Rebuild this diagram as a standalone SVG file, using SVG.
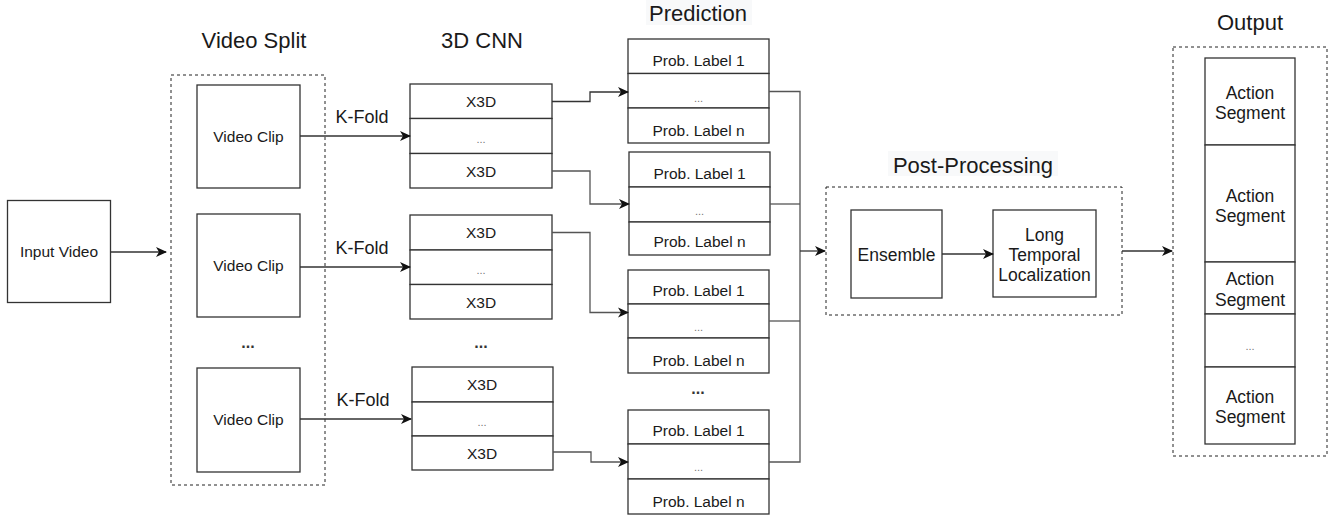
<svg xmlns="http://www.w3.org/2000/svg" width="1330" height="516" viewBox="0 0 1330 516">
<style>
text{font-family:"Liberation Sans",Arial,sans-serif;fill:#1a1a1a;text-anchor:middle}
.box{fill:#fff;stroke:#333;stroke-width:1.3}
.grp{fill:none;stroke:#222;stroke-width:1;stroke-dasharray:3 3}
.ttl{font-size:22px}
.lbl{font-size:15.5px}
.mid{font-size:17.5px}
.kf{font-size:18px}
.dots{font-size:11px;fill:#777}
.bdots{font-size:16px;font-weight:bold;fill:#333}
.bg{fill:#f8f9fa}
.c{fill:none;stroke:#333;stroke-width:1.3}
.cg{fill:none;stroke:#555;stroke-width:1.3}
</style>
<defs>
<marker id="ah" markerWidth="11" markerHeight="11" refX="10" refY="5.5" orient="auto" markerUnits="userSpaceOnUse">
<path d="M0,0.5 L11,5.5 L0,10.5 L3,5.5 Z" fill="#111"/>
</marker>
</defs>
<rect width="1330" height="516" fill="#fff"/>

<g id="titles">
<text class="ttl" x="254" y="48">Video Split</text>
<text class="ttl" x="482" y="48">3D CNN</text>
<rect class="bg" x="646" y="0" width="106" height="25"/>
<text class="ttl" x="698" y="21">Prediction</text>
<rect class="bg" x="888" y="151" width="170" height="25"/>
<text class="ttl" x="973" y="173">Post-Processing</text>
<text class="ttl" x="1250" y="30">Output</text>
</g>

<g id="input-video">
<rect class="box" x="7.5" y="200.5" width="103" height="102"/>
<text class="lbl" x="59" y="257">Input Video</text>
</g>

<g id="video-split">
<rect class="grp" x="171" y="75" width="154" height="410"/>
</g>
<g id="clip1">
<rect class="box" x="197" y="85" width="103" height="103"/>
<text class="lbl" x="248.5" y="142">Video Clip</text>
</g>
<g id="clip2">
<rect class="box" x="197" y="214" width="103" height="103"/>
<text class="lbl" x="248.5" y="271">Video Clip</text>
</g>
<text class="bdots" x="248" y="348">...</text>
<g id="clip3">
<rect class="box" x="197" y="368" width="103" height="104"/>
<text class="lbl" x="248.5" y="425">Video Clip</text>
</g>

<g id="cnn1">
<rect class="box" x="410" y="84" width="142" height="34.5"/>
<rect class="box" x="410" y="118.5" width="142" height="35"/>
<rect class="box" x="410" y="153.5" width="142" height="34.5"/>
<text class="lbl" x="481" y="107">X3D</text>
<text class="dots" x="481" y="143">...</text>
<text class="lbl" x="481" y="177">X3D</text>
</g>
<g id="cnn2">
<rect class="box" x="410" y="215" width="142" height="35"/>
<rect class="box" x="410" y="250" width="142" height="34.5"/>
<rect class="box" x="410" y="284.5" width="142" height="34.5"/>
<text class="lbl" x="481" y="238">X3D</text>
<text class="dots" x="481" y="274">...</text>
<text class="lbl" x="481" y="308">X3D</text>
</g>
<text class="bdots" x="481" y="348">...</text>
<g id="cnn3">
<rect class="box" x="412" y="367" width="141" height="35"/>
<rect class="box" x="412" y="402" width="141" height="34"/>
<rect class="box" x="412" y="436" width="141" height="34"/>
<text class="lbl" x="482" y="390">X3D</text>
<text class="dots" x="482" y="426">...</text>
<text class="lbl" x="482" y="459">X3D</text>
</g>

<g id="pred1">
<rect class="box" x="628" y="39" width="141" height="34.5"/>
<rect class="box" x="628" y="73.5" width="141" height="34.5"/>
<rect class="box" x="628" y="108" width="141" height="35"/>
<text class="lbl" x="698.5" y="66">Prob. Label 1</text>
<text class="dots" x="698.5" y="102">...</text>
<text class="lbl" x="698.5" y="136">Prob. Label n</text>
</g>
<g id="pred2">
<rect class="box" x="629" y="152" width="141" height="35"/>
<rect class="box" x="629" y="187" width="141" height="35"/>
<rect class="box" x="629" y="222" width="141" height="33"/>
<text class="lbl" x="699.5" y="179">Prob. Label 1</text>
<text class="dots" x="699.5" y="215">...</text>
<text class="lbl" x="699.5" y="247">Prob. Label n</text>
</g>
<g id="pred3">
<rect class="box" x="628" y="270" width="141" height="34"/>
<rect class="box" x="628" y="304" width="141" height="34"/>
<rect class="box" x="628" y="338" width="141" height="35"/>
<text class="lbl" x="698.5" y="296">Prob. Label 1</text>
<text class="dots" x="698.5" y="331">...</text>
<text class="lbl" x="698.5" y="366">Prob. Label n</text>
</g>
<text class="bdots" x="698" y="394">...</text>
<g id="pred4">
<rect class="box" x="628" y="410" width="141" height="34"/>
<rect class="box" x="628" y="444" width="141" height="35"/>
<rect class="box" x="628" y="479" width="141" height="35"/>
<text class="lbl" x="698.5" y="436">Prob. Label 1</text>
<text class="dots" x="698.5" y="471">...</text>
<text class="lbl" x="698.5" y="507">Prob. Label n</text>
</g>

<g id="post-processing">
<rect class="grp" x="826" y="187" width="296" height="128"/>
</g>
<g id="ensemble">
<rect class="box" x="851" y="210" width="91" height="88"/>
<text class="mid" x="896.5" y="261">Ensemble</text>
</g>
<g id="ltl">
<rect class="box" x="993" y="210" width="103" height="87"/>
<text class="mid" x="1044.5" y="241">Long</text>
<text class="mid" x="1044.5" y="261">Temporal</text>
<text class="mid" x="1044.5" y="281">Localization</text>
</g>

<g id="output">
<rect class="grp" x="1173" y="47" width="154" height="409"/>
</g>
<g id="segments">
<rect class="box" x="1205" y="58" width="90" height="87"/>
<rect class="box" x="1205" y="145" width="90" height="117"/>
<rect class="box" x="1205" y="262" width="90" height="52"/>
<rect class="box" x="1205" y="314" width="90" height="53"/>
<rect class="box" x="1205" y="367" width="90" height="77"/>
<text class="mid" x="1250" y="99">Action</text>
<text class="mid" x="1250" y="119">Segment</text>
<text class="mid" x="1250" y="202">Action</text>
<text class="mid" x="1250" y="222">Segment</text>
<text class="mid" x="1250" y="285">Action</text>
<text class="mid" x="1250" y="306">Segment</text>
<text class="dots" x="1250" y="350">...</text>
<text class="mid" x="1250" y="403">Action</text>
<text class="mid" x="1250" y="423">Segment</text>
</g>

<g id="connectors">
<path class="c" d="M110.5,252 H166" marker-end="url(#ah)"/>
<path class="c" d="M300,136 H410" marker-end="url(#ah)"/>
<path class="c" d="M300,267 H410" marker-end="url(#ah)"/>
<path class="c" d="M300,419 H411" marker-end="url(#ah)"/>
<text class="kf" x="362" y="123">K-Fold</text>
<text class="kf" x="362" y="254">K-Fold</text>
<text class="kf" x="363" y="406">K-Fold</text>

<path class="c" d="M552,101.5 H590 V92 H628" marker-end="url(#ah)"/>
<path class="cg" d="M552,171 H590 V204 H629" marker-end="url(#ah)"/>
<path class="cg" d="M552,232.5 H590 V312.5 H628" marker-end="url(#ah)"/>
<path class="cg" d="M553,452 H591 V462 H628" marker-end="url(#ah)"/>

<path class="cg" d="M769,91.5 H800 V462 H769"/>
<path class="cg" d="M770,204 H800"/>
<path class="cg" d="M769,321 H800"/>
<path class="c" d="M800,251 H825" marker-end="url(#ah)"/>

<path class="c" d="M942,254 H993" marker-end="url(#ah)"/>
<path class="c" d="M1122,251 H1172" marker-end="url(#ah)"/>
</g>
</svg>
